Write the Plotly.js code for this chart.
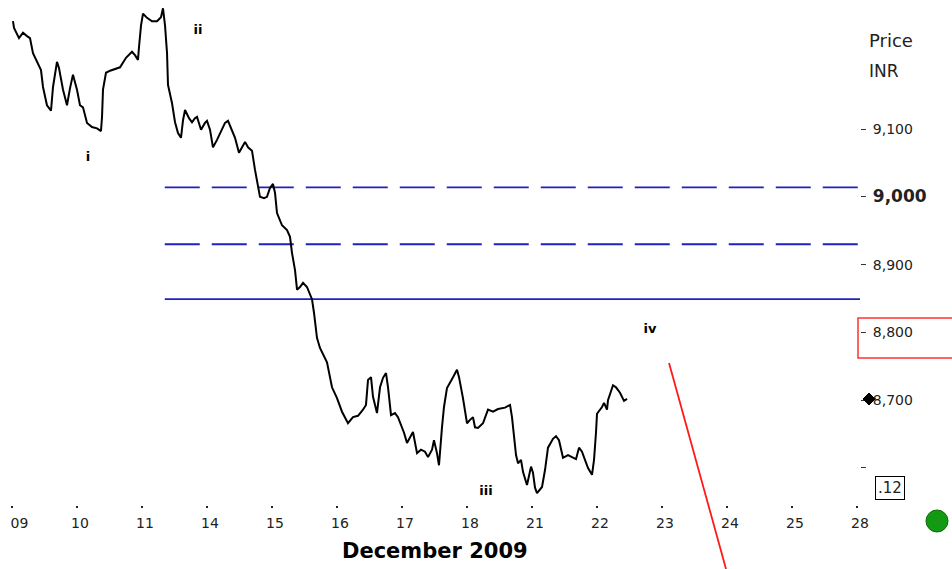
<!DOCTYPE html>
<html>
<head>
<meta charset="utf-8">
<script src="https://cdn.plot.ly/plotly-3.0.1.min.js"></script>
<style>html,body{margin:0;padding:0;background:#fff;}#chart{width:952px;height:569px;}</style>
</head>
<body>
<div id="chart"></div>
<script>
// Trading-day categories (index 0 = 09 Dec)
const dayLabels = ['&nbsp;&nbsp;09','10','11','14','15','16','17','18','21','22','23','24','25','28'];
const dayIndex = [0,1,2,3,4,5,6,7,8,9,10,11,12,13];

// Intraday price path (time in trading-day units, price in INR)
const times = [0.015,0.031,0.108,0.169,0.231,0.277,0.323,0.385,0.446,0.477,0.538,0.600,0.631,0.692,0.723,0.785,0.846,0.892,0.938,1.000,
1.046,1.092,1.154,1.231,1.308,1.369,1.385,1.400,1.446,1.508,1.585,1.662,1.754,1.846,1.892,1.938,1.954,1.985,2.015,2.077,
2.154,2.231,2.292,2.323,2.354,2.385,2.400,2.462,2.508,2.554,2.600,2.631,2.662,2.723,2.769,2.815,2.846,2.908,2.969,3.000,
3.046,3.092,3.154,3.231,3.277,3.323,3.385,3.431,3.492,3.554,3.585,3.631,3.692,3.738,3.785,3.815,3.877,3.923,3.969,4.015,
4.046,4.077,4.154,4.231,4.277,4.308,4.354,4.385,4.431,4.477,4.538,4.615,4.646,4.692,4.738,4.785,4.846,4.923,5.000,5.077,
5.169,5.246,5.323,5.400,5.446,5.477,5.523,5.554,5.615,5.662,5.708,5.754,5.785,5.831,5.892,5.938,6.000,6.031,6.077,6.123,
6.169,6.231,6.292,6.354,6.400,6.462,6.492,6.538,6.569,6.615,6.646,6.692,6.738,6.785,6.846,6.877,6.938,7.000,7.046,7.092,
7.123,7.169,7.246,7.323,7.400,7.477,7.585,7.662,7.692,7.723,7.754,7.785,7.831,7.862,7.923,7.985,8.015,8.046,8.077,8.154,
8.200,8.246,8.323,8.369,8.415,8.477,8.554,8.615,8.677,8.723,8.769,8.815,8.862,8.923,8.954,8.985,9.000,9.077,9.108,9.154,
9.169,9.246,9.292,9.354,9.415,9.462];
const prices = [9259,9249,9234,9242,9237,9234,9212,9199,9187,9162,9135,9127,9162,9199,9190,9158,9135,9160,9180,9158,
9135,9132,9109,9103,9101,9097,9118,9158,9183,9186,9188,9191,9205,9214,9209,9202,9221,9253,9270,9264,
9259,9259,9265,9278,9253,9212,9165,9138,9110,9094,9087,9113,9128,9116,9110,9116,9118,9099,9109,9112,
9099,9073,9084,9101,9109,9112,9096,9087,9065,9076,9081,9073,9068,9040,9014,9000,8998,9000,9013,9019,
9006,8976,8958,8951,8941,8917,8892,8863,8867,8873,8867,8849,8829,8792,8777,8767,8756,8719,8703,8683,
8666,8675,8677,8686,8693,8730,8734,8705,8681,8719,8733,8740,8719,8678,8681,8675,8660,8652,8637,8646,
8653,8622,8627,8624,8616,8627,8641,8622,8604,8660,8690,8718,8725,8734,8745,8734,8703,8666,8671,8675,
8660,8659,8666,8686,8683,8687,8689,8693,8675,8646,8619,8607,8612,8594,8575,8602,8593,8571,8563,8572,
8597,8630,8643,8647,8641,8615,8619,8616,8613,8630,8624,8612,8600,8590,8612,8653,8680,8690,8696,8686,
8700,8722,8719,8711,8699,8702];

// Horizontal levels
const levelPrices = [9014, 8930, 8849];
const levelDash = ['35px,12px', '35px,12px', 'solid'];
const levelStart = 2.35;
const levelEnd = 13.05;

// Red projection line
const redTimes = [10.108, 10.985];
const redPrices = [8755, 8451];

// Wave labels
const waveText = ['i','ii','iii','iv'];
const waveTimes = [1.169, 2.862, 7.292, 9.815];
const wavePrices = [9057, 9245, 8565, 8804];

// Y-axis ticks
const yTickVals = [8600, 8700, 8800, 8900, 9000, 9100];
const yTickText = ['', '8,700', '8,800', '8,900', '<b><span style="font-size:17px">9,000</span></b>', '9,100'];

const lastPrice = 8702;

const traces = [];
levelPrices.forEach((p, i) => {
  traces.push({
    x: [levelStart, levelEnd], y: [p, p], mode: 'lines', hoverinfo: 'skip',
    line: {color: '#2020c0', width: 1.8, dash: levelDash[i]}
  });
});
traces.push({x: times, y: prices, mode: 'lines', line: {color: '#000', width: 2}, hoverinfo: 'skip'});
traces.push({x: redTimes, y: redPrices, mode: 'lines', line: {color: '#ff1a1a', width: 1.8}, hoverinfo: 'skip'});
traces.push({
  x: waveTimes, y: wavePrices, text: waveText, mode: 'text', hoverinfo: 'skip',
  textfont: {family: 'DejaVu Sans', size: 13, color: '#000', weight: 'bold'}
});

const W = 860, H = 569; // plot-area width (paper units), full height
const px = v => v / W;
const py = v => (H - v) / H;

// last-price marker (diamond) next to the y axis, in paper units
const mx = 869, my = 399, mr = 6;
const markerPath = 'M ' + px(mx - mr) + ' ' + py(my) + ' L ' + px(mx) + ' ' + py(my - mr) +
  ' L ' + px(mx + mr) + ' ' + py(my) + ' L ' + px(mx) + ' ' + py(my + mr) + ' Z';

const layout = {
  width: 952, height: H,
  margin: {l: 0, r: 92, t: 0, b: 0, pad: 0},
  paper_bgcolor: '#fff', plot_bgcolor: '#fff',
  showlegend: false,
  font: {family: 'DejaVu Sans', size: 13, color: '#222'},
  xaxis: {
    range: [-0.1846, 13.046], showgrid: false, zeroline: false, showline: false,
    anchor: 'free', position: py(505),
    tickmode: 'array', tickvals: dayIndex, ticktext: dayLabels,
    ticks: 'outside', ticklen: 2, tickwidth: 2, tickcolor: '#222',
    ticklabelstandoff: 3, ticklabelshift: 3,
    tickfont: {family: 'DejaVu Sans', size: 14, color: '#222'}
  },
  yaxis: {
    range: [8451, 9290.3], side: 'right', showgrid: false, zeroline: false, showline: false,
    tickmode: 'array', tickvals: yTickVals, ticktext: yTickText,
    ticks: 'outside', ticklen: 5, tickwidth: 1, tickcolor: '#333',
    ticklabelstandoff: 4,
    tickfont: {family: 'DejaVu Sans', size: 14, color: '#222'}
  },
  annotations: [
    {xref: 'paper', yref: 'paper', x: px(867), y: py(40), xanchor: 'left', yanchor: 'middle',
     text: 'Price', showarrow: false, font: {family: 'DejaVu Sans', size: 18, color: '#222'}},
    {xref: 'paper', yref: 'paper', x: px(867), y: py(71), xanchor: 'left', yanchor: 'middle',
     text: 'INR', showarrow: false, font: {family: 'DejaVu Sans', size: 17, color: '#222'}},
    {xref: 'paper', yref: 'paper', x: px(435), y: py(551), xanchor: 'center', yanchor: 'middle',
     text: '<b>December 2009</b>', showarrow: false, font: {family: 'DejaVu Sans', size: 21, color: '#000'}},
    {xref: 'paper', yref: 'paper', x: px(890), y: py(488), xanchor: 'center', yanchor: 'middle',
     text: '.12', showarrow: false, bordercolor: '#000', borderwidth: 1, borderpad: 2, bgcolor: '#fff',
     font: {family: 'DejaVu Sans', size: 15, color: '#222'}}
  ],
  shapes: [
    {type: 'rect', xref: 'paper', yref: 'paper', x0: px(858), x1: px(960), y0: py(358), y1: py(318),
     line: {color: '#ff3030', width: 1.5}, fillcolor: 'rgba(0,0,0,0)'},
    {type: 'circle', xref: 'paper', yref: 'paper', x0: px(926), x1: px(948), y0: py(532), y1: py(510),
     line: {color: '#0b6e0b', width: 1}, fillcolor: '#129a12'},
    {type: 'path', xref: 'paper', yref: 'paper', path: markerPath,
     line: {color: '#000', width: 1}, fillcolor: '#000'}
  ]
};

Plotly.newPlot('chart', traces, layout, {staticPlot: true, displayModeBar: false});
</script>
</body>
</html>
